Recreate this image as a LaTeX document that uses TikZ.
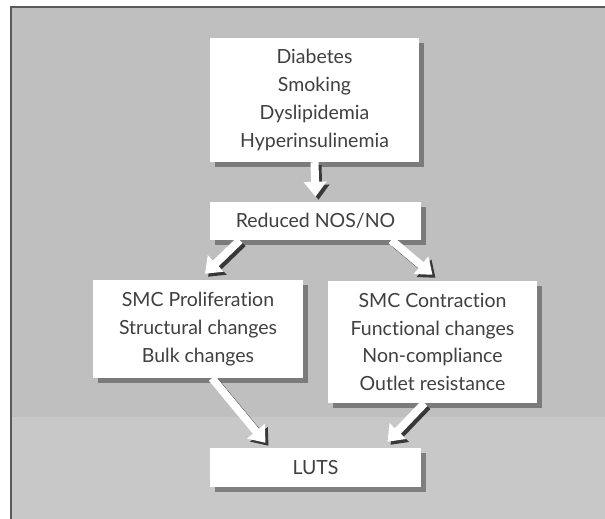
\documentclass[tikz,border=0pt]{standalone}
\usepackage{fontspec}
\setmainfont{Lato}[Ligatures={NoCommon}]
\usetikzlibrary{arrows.meta,positioning,calc,shadows}
\definecolor{panelgray}{HTML}{BFBFBF}
\definecolor{bandgray}{HTML}{C8C8C8}
\definecolor{bordergray}{HTML}{5A5A5A}
\definecolor{shadowgray}{HTML}{383838}
\definecolor{textgray}{HTML}{404040}
\tikzset{every shadow/.style={fill=shadowgray,shadow xshift=5pt,shadow yshift=-5pt}}
\newcommand{\fatarrow}[2]{%
  \draw[fatshadow] #1 -- #2;
  \draw[fat] #1 -- #2;}

\begin{document}
\begin{tikzpicture}[x=1pt,y=-1pt,
  box/.style={rectangle,fill=white,drop shadow,inner sep=0pt,align=center,
    text=textgray,font=\fontsize{19.5}{27.7}\selectfont},
  fat/.style={white,line width=8pt,-{Triangle[width=22pt,length=15pt]}},
  fatshadow/.style={fat,shadowgray,transform canvas={shift={(3pt,-3pt)}}}]
% \draw[help lines] (0,0) grid (605,519);
\useasboundingbox (0,0) rectangle (605,519);
\fill[white] (0,0) rectangle (605,519);
\fill[panelgray] (11,7) rectangle (605,519);
\fill[bandgray] (11,417) rectangle (605,519);
\draw[bordergray,line width=1.5pt] (605,7) -- (11,7) -- (11,519);
%
\node (risk) [box,minimum width=209pt,minimum height=124pt] at (314.5,100)
  {Diabetes\\Smoking\\Dyslipidemia\\Hyperinsulinemia};
\node (nos) [box,minimum width=211pt,minimum height=38pt] at (315.5,221) {Reduced NOS/NO};
\node (prolif) [box,minimum width=210pt,minimum height=98pt] at (198,329)
  {SMC Proliferation\\Structural changes\\Bulk changes};
\node (contr) [box,minimum width=209pt,minimum height=122pt] at (432.5,342)
  {SMC Contraction\\Functional changes\\Non-compliance\\Outlet resistance};
\node (luts) [box,minimum width=211pt,minimum height=39pt] at (315.5,467.5) {LUTS};
%
\fatarrow{(risk.south)}{([yshift=5pt]nos.north)}
\fatarrow{([xshift=30pt]nos.south west)}{([xshift=7pt,yshift=6pt]prolif.north)}
\fatarrow{([xshift=-30pt]nos.south east)}{([yshift=6pt]contr.north)}
\fatarrow{([xshift=14pt]prolif.south)}{([xshift=-50pt,yshift=5pt]luts.north)}
\fatarrow{([xshift=-8pt]contr.south)}{([xshift=72pt,yshift=6pt]luts.north)}
\end{tikzpicture}
\end{document}
